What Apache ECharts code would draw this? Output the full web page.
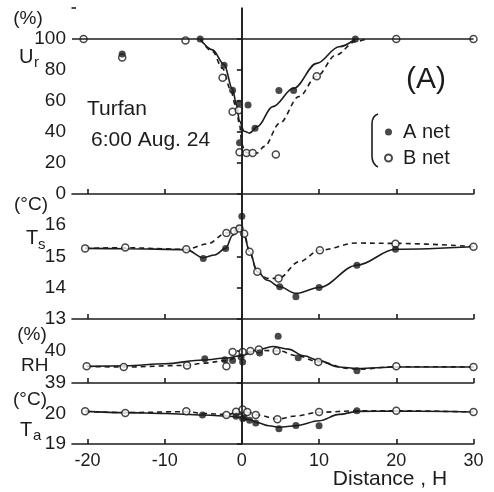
<!DOCTYPE html>
<html>
<head>
<meta charset="utf-8">
<script src="https://cdn.jsdelivr.net/npm/echarts@6/dist/echarts.min.js"></script>
<style>html,body{margin:0;padding:0;background:#fff;}#c{width:494px;height:492px;}</style>
</head>
<body>
<div id="c"></div>
<script>
// ---- tick values ----
const xTickValues = [-20, -10, 0, 10, 20, 30];
const urTicks = [0, 20, 40, 60, 80, 100];
const tsTicks = [13, 14, 15, 16];
const rhTicks = [39, 40];
const taTicks = [19, 20];

// ---- Ur (%) panel ----
const urA = [[-15.5,90.3],[-5.4,100],[-2.3,83],[-1.2,67],[-0.4,58.6],[-0.3,33],[0.8,57.5],[1.7,42.5],[4.8,66.7],[6.7,66.7],[14.7,100]];
const urB = [[-20.5,100],[-15.5,88],[-7.3,99],[-2.5,75],[-1.2,53],[-0.4,54],[-0.3,27],[0.6,26.5],[1.4,26.5],[4.4,25.5],[9.7,76],[20,100],[30,100]];
const urCurveA = [[-5.4,100],[-3.8,93],[-2.3,83.5],[-1.2,67.5],[-0.7,57.5],[-0.3,47],[0.3,40.5],[1,39.3],[2,43.5],[4,56.4],[6.7,68.2],[9.7,84.3],[12.6,95],[14.7,100]];
const urCurveB = [[-5.4,100],[-3.8,92],[-2.5,81],[-1.5,68],[-0.8,57],[-0.3,45],[0,32],[0.4,27],[1.2,26],[2,26.5],[2.9,30.7],[4.9,45.7],[7.4,62.9],[9.7,76],[12.2,89.7],[14.7,98.3],[16.1,100]];

// ---- Ts (°C) panel ----
const tsA = [[-5,14.94],[-2.1,15.26],[0,16.29],[4.9,14.03],[7,13.71],[10,14.01],[14.9,14.72],[19.9,15.23]];
const tsB = [[-20.3,15.26],[-15.1,15.29],[-7.2,15.23],[-2,15.75],[-1,15.82],[-0.3,15.9],[0.3,15.73],[1,15.15],[2,14.51],[4.75,14.3],[10.1,15.2],[19.9,15.41],[30,15.31]];
const tsCurveA = [[-20.3,15.26],[-15,15.25],[-7.2,15.22],[-5,14.96],[-3.5,15.05],[-2.1,15.26],[-1.2,15.68],[-0.3,15.9],[0.3,15.66],[1,15.15],[2,14.51],[3.3,14.24],[4.9,14.03],[7,13.82],[10,14.01],[14.9,14.72],[19.9,15.23],[30,15.31]];
const tsCurveB = [[-20.3,15.26],[-15.1,15.28],[-7.2,15.23],[-4.5,15.4],[-2,15.75],[-1,15.82],[-0.3,15.9],[0.3,15.73],[1,15.15],[2,14.51],[3.3,14.3],[4.75,14.3],[7.4,14.83],[10.1,15.2],[14.8,15.43],[19.9,15.42],[30,15.32]];

// ---- RH (%) panel ----
const rhA = [[-4.8,39.76],[-2.2,39.73],[-1.2,39.7],[-0.1,39.81],[0.1,39.66],[2.3,39.94],[4.7,40.46],[7.3,39.79],[14.9,39.38]];
const rhB = [[-20.1,39.52],[-15.3,39.5],[-7.1,39.55],[-2,39.52],[-1.2,39.97],[0.1,39.97],[1.1,40.0],[2.2,40.05],[4.5,40.0],[9.9,39.66],[20,39.52],[30,39.5]];
const rhCurveA = [[-20.1,39.52],[-15,39.54],[-10,39.6],[-5,39.72],[-2,39.78],[0,39.86],[2,40.03],[4,40.14],[6,40.06],[8,39.85],[10,39.7],[12.5,39.5],[15,39.45],[20,39.5],[30,39.5]];
const rhCurveB = [[-20.1,39.52],[-15.3,39.5],[-7.1,39.55],[-5,39.62],[-2,39.7],[0,39.85],[1,39.98],[2.3,40.02],[4.9,40.0],[7,39.86],[10,39.66],[13.9,39.45],[15,39.43],[20,39.51],[30,39.5]];

// ---- Ta (°C) panel ----
const taA = [[-5.1,19.95],[-0.75,19.91],[0.1,19.84],[0.3,19.86],[1,19.78],[1.8,19.69],[4.8,19.5],[7,19.61],[10,19.6],[14.9,20.09]];
const taB = [[-20.3,20.07],[-15.1,20.02],[-7.2,20.07],[-2,19.95],[-0.75,20.06],[0.1,20.13],[0.7,20.05],[1.8,19.95],[4.6,19.81],[10,20.05],[20,20.09],[30,20.05]];
const taCurveA = [[-20.3,20.07],[-15,20.03],[-10,20.0],[-5.1,19.95],[-2,19.92],[0,19.87],[1,19.8],[2,19.7],[3.5,19.6],[4.8,19.55],[7,19.6],[10,19.76],[12.6,19.97],[15,20.07],[20,20.08],[30,20.05]];
const taCurveB = [[-20.3,20.07],[-15.1,20.03],[-7.2,20.06],[-5,20.0],[-2,19.97],[0,20.06],[1,20.03],[2,19.95],[4.7,19.82],[7,19.92],[10,20.04],[15,20.09],[20,20.09],[30,20.05]];

const INK = '#1c1c1c';
const FONT = '"Liberation Sans", Arial, sans-serif';
const LW = 1.6;

const panels = [
  {top: 8, height: 186, min: 0, max: 120, interval: 20, ticks: urTicks, A: urA, B: urB, cA: urCurveA, cB: urCurveB, hline: 100},
  {top: 194, height: 125, min: 13, max: 17, interval: 1, ticks: tsTicks, A: tsA, B: tsB, cA: tsCurveA, cB: tsCurveB},
  {top: 319, height: 64, min: 39, max: 41, interval: 1, ticks: rhTicks, A: rhA, B: rhB, cA: rhCurveA, cB: rhCurveB},
  {top: 383, height: 61, min: 19, max: 21, interval: 1, ticks: taTicks, A: taA, B: taB, cA: taCurveA, cB: taCurveB}
];

const grid = [], xAxis = [], yAxis = [], series = [];
panels.forEach((p, i) => {
  const last = i === panels.length - 1;
  grid.push({left: 72, width: 401.5, top: p.top, height: p.height});
  xAxis.push({
    type: 'value', gridIndex: i, min: -22, max: 30,
    axisLine: {show: true, lineStyle: {color: INK, width: LW}},
    axisTick: {show: true, inside: true, length: 5, customValues: xTickValues, lineStyle: {color: INK, width: LW}},
    axisLabel: {show: last, customValues: xTickValues, margin: 8, color: INK, fontSize: 18, fontFamily: FONT},
    splitLine: {show: false}
  });
  yAxis.push({
    type: 'value', gridIndex: i, min: p.min, max: p.max, interval: p.interval,
    axisLine: {show: true, lineStyle: {color: INK, width: LW}},
    axisTick: {show: true, inside: false, length: 5, customValues: p.ticks, lineStyle: {color: INK, width: LW}},
    axisLabel: {customValues: p.ticks, margin: 6, color: INK, fontSize: 19, fontFamily: FONT},
    splitLine: {show: false}
  });
  const markData = [{xAxis: 0}];
  if (p.hline !== undefined) markData.push({yAxis: p.hline});
  series.push({
    type: 'line', name: 'A curve', xAxisIndex: i, yAxisIndex: i, data: p.cA,
    smooth: 0.35, smoothMonotone: 'x', showSymbol: false, symbol: 'none',
    lineStyle: {color: INK, width: LW}, z: 2, silent: true,
    markLine: {silent: true, symbol: 'none', label: {show: false},
      lineStyle: {color: INK, width: LW, type: 'solid'}, data: markData}
  });
  series.push({
    type: 'line', name: 'B curve', xAxisIndex: i, yAxisIndex: i, data: p.cB,
    smooth: 0.35, smoothMonotone: 'x', showSymbol: false, symbol: 'none',
    lineStyle: {color: INK, width: LW, type: [5, 4]}, z: 2, silent: true
  });
  series.push({
    type: 'scatter', name: 'B net', xAxisIndex: i, yAxisIndex: i, data: p.B,
    symbol: 'circle', symbolSize: 7,
    itemStyle: {color: '#ffffff', borderColor: INK, borderWidth: 1.5}, z: 3
  });
  series.push({
    type: 'scatter', name: 'A net', xAxisIndex: i, yAxisIndex: i, data: p.A,
    symbol: 'circle', symbolSize: 7,
    itemStyle: {color: INK}, z: 4
  });
});

function txt(x, y, text, size, align) {
  return {type: 'text', x: x, y: y, z: 10, silent: true,
    style: {text: text, fontSize: size, fontFamily: FONT, fill: INK, align: align || 'left', verticalAlign: 'middle'}};
}
const strokeStyle = {stroke: INK, lineWidth: LW, fill: null};

const graphic = [
  // y-axis names
  txt(28, 19, '(%)', 19, 'center'),
  txt(19, 57, 'U', 20), txt(34, 63, 'r', 15),
  txt(31, 205, '(°C)', 19, 'center'),
  txt(26, 238, 'T', 20), txt(38, 245, 's', 15),
  txt(32, 335, '(%)', 19, 'center'),
  txt(21, 366, 'RH', 19),
  txt(30, 400, '(°C)', 19, 'center'),
  txt(20, 430, 'T', 20), txt(33, 436, 'a', 15),
  // annotations
  txt(87, 109, 'Turfan', 21),
  txt(91, 140, '6:00 Aug. 24', 21),
  txt(426, 80, '(A)', 30, 'center'),
  txt(390, 479, 'Distance , H', 21, 'center'),
  // small stub at the top of the y axis
  {type: 'line', z: 10, silent: true, shape: {x1: 71.5, y1: 8, x2: 76, y2: 8}, style: strokeStyle},
  // legend bracket
  {type: 'bezierCurve', z: 10, silent: true, shape: {x1: 378, y1: 114, x2: 372, y2: 124, cpx1: 372, cpy1: 116}, style: strokeStyle},
  {type: 'line', z: 10, silent: true, shape: {x1: 372, y1: 124, x2: 372, y2: 156}, style: strokeStyle},
  {type: 'bezierCurve', z: 10, silent: true, shape: {x1: 372, y1: 156, x2: 378, y2: 167, cpx1: 372, cpy1: 164}, style: strokeStyle}
];

const chart = echarts.init(document.getElementById('c'), null, {renderer: 'canvas'});
chart.setOption({
  backgroundColor: '#ffffff',
  animation: false,
  grid: grid,
  xAxis: xAxis,
  yAxis: yAxis,
  legend: {
    data: ['A net', 'B net'], orient: 'vertical', left: 379, top: 116,
    itemWidth: 7, itemHeight: 7, itemGap: 4, icon: 'circle',
    textStyle: {fontSize: 20, fontFamily: FONT, color: INK, lineHeight: 22, padding: [0, 0, 0, 6]}
  },
  series: series,
  graphic: graphic
});
</script>
</body>
</html>
